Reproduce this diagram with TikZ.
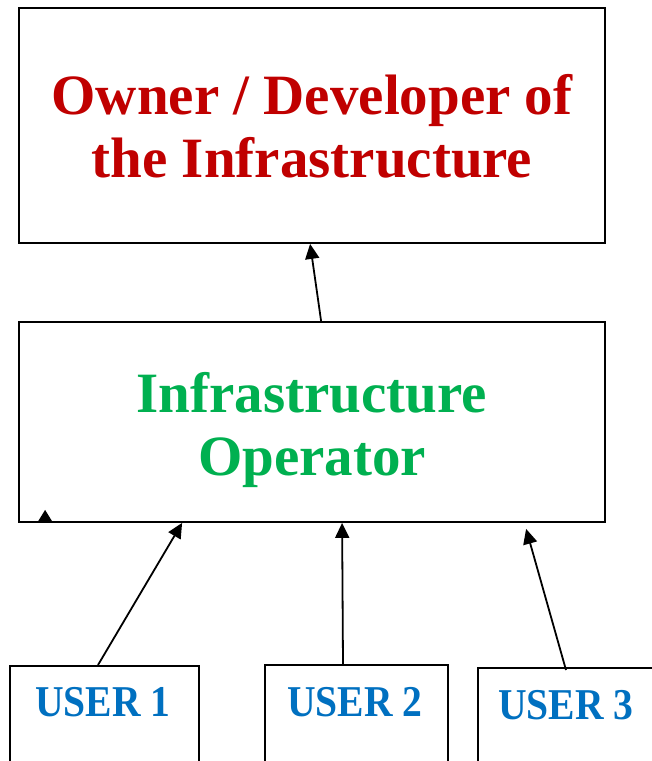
\documentclass[tikz,border=0pt]{standalone}
\usepackage{fontspec}
\setmainfont{Liberation Serif}
\usetikzlibrary{arrows.meta,calc}
\definecolor{ownerred}{RGB}{192,0,0}
\definecolor{opgreen}{RGB}{0,176,80}
\definecolor{userblue}{RGB}{0,112,192}
\tikzset{
  box/.style={draw=black,line width=1.8pt,rectangle,inner sep=0pt},
  userbox/.style={draw=black,line width=1.6pt,rectangle,inner sep=0pt,minimum width=189pt,minimum height=130pt},
  bigtext/.style={align=center,inner sep=0pt,font=\bfseries\fontsize{57}{63}\selectfont},
  usertext/.style={inner sep=0pt,text=userblue,font=\bfseries\fontsize{44}{50}\selectfont},
  link/.style={line width=1.8pt,-{Triangle[length=15pt,width=14pt]}}
}
\begin{document}
\begin{tikzpicture}[x=1pt,y=-1pt]
  \clip (0,0) rectangle (652,761);
  \useasboundingbox (0,0) rectangle (652,761);
  \fill[white] (0,0) rectangle (652,761);

  % upper boxes
  \node[box,minimum width=586pt,minimum height=235pt] (owner) at (312,125.5) {};
  \node[box,minimum width=586pt,minimum height=200pt] (oper) at (312,422) {};
  \node[bigtext,text=ownerred] (ownertxt) at (312,126.5) {Owner / Developer of\\the Infrastructure};
  \node[bigtext,text=opgreen] (opertxt) at (312,429.5) {Infrastructure\\Operator};

  % user boxes, running past the lower edge
  \node[userbox,anchor=north west] (u1) at (9,665) {};
  \node[userbox,anchor=north west,minimum width=183pt] (u2) at (264,664) {};
  \node[userbox,anchor=north west,minimum width=200pt] (u3) at (477,667) {};
  \node[usertext] (u1txt) at (103,702.5) {\scalebox{0.9}[1]{USER 1}};
  \node[usertext] (u2txt) at (355,702) {\scalebox{0.9}[1]{USER 2}};
  \node[usertext] (u3txt) at (566,705) {\scalebox{0.9}[1]{USER 3}};

  % connector end points
  \coordinate (opTop) at ($(oper.north west)+(303,0)$);
  \coordinate (ownBot) at ($(owner.south west)+(292,0)$);
  \coordinate (opB1) at ($(oper.south west)+(164,0)$);
  \coordinate (opB2) at ($(oper.south west)+(324,0)$);
  \coordinate (opB3) at ($(oper.south west)+(508,6)$);
  \coordinate (u1Top) at ($(u1.north west)+(89,0)$);
  \coordinate (u2Top) at ($(u2.north west)+(79,0)$);
  \coordinate (u3Top) at ($(u3.north west)+(89,3)$);

  \draw[link] (opTop) -- (ownBot);
  \draw[link] (u1Top) -- (opB1);
  \draw[link] (u2Top) -- (opB2);
  \draw[link] (u3Top) -- (opB3);

  % stray arrow tip resting on the operator box
  \fill[black] ($(oper.south west)+(19,0)$) -- ($(oper.south west)+(27,-13)$) -- ($(oper.south west)+(35,0)$) -- cycle;
\end{tikzpicture}
\end{document}
